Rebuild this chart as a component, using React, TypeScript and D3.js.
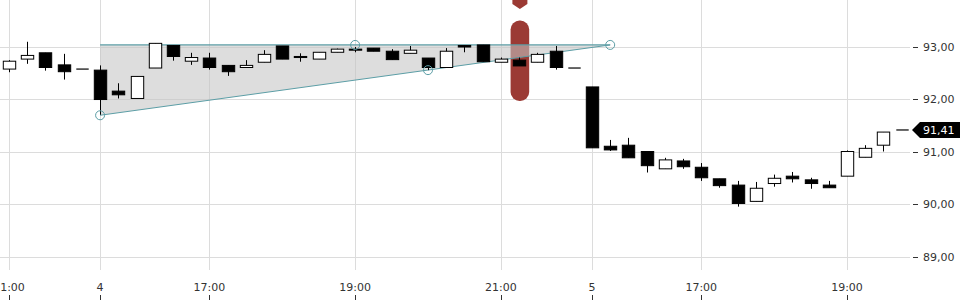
import React from "react";
import * as d3 from "d3";

const opens = [92.57, 92.76, 92.88, 92.65, 92.57, 92.55, 92.15, 92.01, 92.59, 93.02, 92.72, 92.78, 92.64, 92.60, 92.70, 93.01, 92.81, 92.76, 92.89, 92.95, 92.97, 92.91, 92.87, 92.78, 92.60, 93.02, 93.03, 92.70, 92.74, 92.70, 92.91, 92.59, 92.23, 91.10, 91.12, 91.00, 90.67, 90.82, 90.70, 90.48, 90.36, 90.05, 90.39, 90.53, 90.46, 90.36, 90.53, 90.89, 91.12, 91.41];
const highs = [92.74, 93.09, 92.88, 92.86, 92.57, 92.64, 92.30, 92.43, 93.06, 93.02, 92.88, 92.88, 92.64, 92.74, 92.93, 93.01, 92.87, 92.89, 92.96, 92.99, 92.97, 92.95, 93.01, 92.78, 92.97, 93.02, 93.03, 92.79, 92.79, 92.88, 93.01, 92.59, 92.23, 91.22, 91.26, 91.00, 90.88, 90.86, 90.78, 90.48, 90.44, 90.42, 90.56, 90.61, 90.50, 90.44, 91.02, 91.12, 91.37, 91.41];
const lows = [92.51, 92.67, 92.54, 92.37, 92.57, 91.70, 92.01, 92.01, 92.59, 92.73, 92.65, 92.56, 92.44, 92.60, 92.70, 92.76, 92.71, 92.76, 92.89, 92.89, 92.91, 92.75, 92.87, 92.55, 92.60, 92.89, 92.71, 92.70, 92.63, 92.70, 92.56, 92.59, 91.07, 91.01, 90.88, 90.60, 90.67, 90.67, 90.44, 90.31, 89.95, 90.05, 90.33, 90.41, 90.29, 90.31, 90.53, 90.89, 91.00, 91.41];
const closes = [92.72, 92.83, 92.60, 92.52, 92.57, 91.99, 92.08, 92.43, 93.06, 92.81, 92.79, 92.60, 92.52, 92.64, 92.85, 92.76, 92.79, 92.89, 92.95, 92.93, 92.91, 92.75, 92.93, 92.60, 92.91, 92.99, 92.71, 92.76, 92.63, 92.85, 92.60, 92.59, 91.07, 91.03, 90.88, 90.73, 90.84, 90.71, 90.50, 90.35, 90.01, 90.30, 90.49, 90.48, 90.39, 90.31, 91.00, 91.06, 91.37, 91.41];

const xTickIndex = [0, 5, 11, 19, 27, 32, 38, 46];
const xTickLabels = ["21:00", "4", "17:00", "19:00", "21:00", "5", "17:00", "19:00"];
const yTicks = [89, 90, 91, 92, 93];
const lastPrice = 91.41;

// annotation triangle (index, price)
const triIndex = [5, 33, 5];
const triPrice = [93.03, 93.03, 91.69];
const anchorIndex = [5, 19, 23, 33];
const anchorPrice = [91.69, 93.03, 92.55, 93.03];
const markerIndex = 28;

const fmt = (v: number) => v.toFixed(2).replace(".", ",");

export default function App() {
  const W = 960, H = 300;
  const x = d3.scaleLinear().domain([0, 46]).range([9, 847]);
  const y = d3.scaleLinear().domain([89, 93]).range([256.5, 46.5]);
  const bw = 12.4;
  const gridRight = 910;
  const font = "DejaVu Sans, sans-serif";
  const teal = "#5c9ea6";
  const red = "#9b3a34";
  const mx = x(markerIndex) + 0.8;

  const triPts = triIndex.map((d, i) => [x(d), y(triPrice[i])] as [number, number]);
  const line = d3.line();

  return (
    <svg width={W} height={H} style={{ position: "absolute", left: 0, top: 0 }} fontFamily={font}>
      <rect width={W} height={H} fill="#fff" />
      {/* grid */}
      {yTicks.map((t) => (
        <g key={"y" + t}>
          <line x1={0} x2={gridRight} y1={Math.round(y(t)) + 0.5} y2={Math.round(y(t)) + 0.5} stroke="#dcdcdc" />
          <line x1={913} x2={918} y1={Math.round(y(t)) + 0.5} y2={Math.round(y(t)) + 0.5} stroke="#333" />
          <text x={923} y={y(t) + 4} fontSize={11} fill="#333">{fmt(t)}</text>
        </g>
      ))}
      {xTickIndex.map((d, i) => (
        <g key={"x" + i}>
          <line x1={Math.round(x(d)) + 0.5} x2={Math.round(x(d)) + 0.5} y1={0} y2={270} stroke="#dcdcdc" />
          <line x1={Math.round(x(d)) + 0.5} x2={Math.round(x(d)) + 0.5} y1={295} y2={300} stroke="#333" />
          <text x={x(d)} y={291} fontSize={11} fill="#333" textAnchor="middle">{xTickLabels[i]}</text>
        </g>
      ))}
      {/* marker */}
      <rect x={mx - 9.3} y={20.5} width={18.6} height={80.5} rx={9} fill={red} />
      <path d={`M${mx - 7.5},0 L${mx + 7.5},0 L${mx + 7.5},4 L${mx},9 L${mx - 7.5},4 Z`} fill={red} />
      {/* annotation */}
      <path d={line(triPts) + "Z"} fill="#c4c4c4" fillOpacity={0.58} stroke="none" />
      <path d={line([triPts[2], triPts[1]])!} stroke={teal} fill="none" strokeWidth={1} />
      <path d={line([triPts[0], triPts[1]])!} stroke={teal} fill="none" strokeWidth={1.2} />
      {/* candles */}
      {opens.map((o, i) => {
        const c = closes[i];
        const cx = Math.round(x(i)) + 0.5;
        const up = c > o;
        const top = y(Math.max(o, c));
        const bot = y(Math.min(o, c));
        const flat = Math.abs(o - c) < 0.005;
        return (
          <g key={i}>
            <line x1={cx} x2={cx} y1={y(highs[i])} y2={y(lows[i])} stroke="#000" strokeWidth={1} />
            {flat ? (
              <line x1={cx - bw / 2} x2={cx + bw / 2} y1={top} y2={top} stroke="#000" strokeWidth={1.2} />
            ) : (
              <rect
                x={cx - bw / 2}
                y={top}
                width={bw}
                height={Math.max(bot - top, 1)}
                fill={up ? "#fff" : "#000"}
                stroke="#000"
                strokeWidth={1}
              />
            )}
          </g>
        );
      })}
      {anchorIndex.map((d, i) => (
        <circle key={"a" + i} cx={x(d)} cy={y(anchorPrice[i])} r={4.5} fill="none" stroke={teal} strokeWidth={1} />
      ))}
      {/* last price tag */}
      <path d={`M912,${y(lastPrice)} L920,${y(lastPrice) - 8} L960,${y(lastPrice) - 8} L960,${y(lastPrice) + 8} L920,${y(lastPrice) + 8} Z`} fill="#000" />
      <text x={923} y={y(lastPrice) + 4} fontSize={11} fill="#fff">{fmt(lastPrice)}</text>
    </svg>
  );
}
